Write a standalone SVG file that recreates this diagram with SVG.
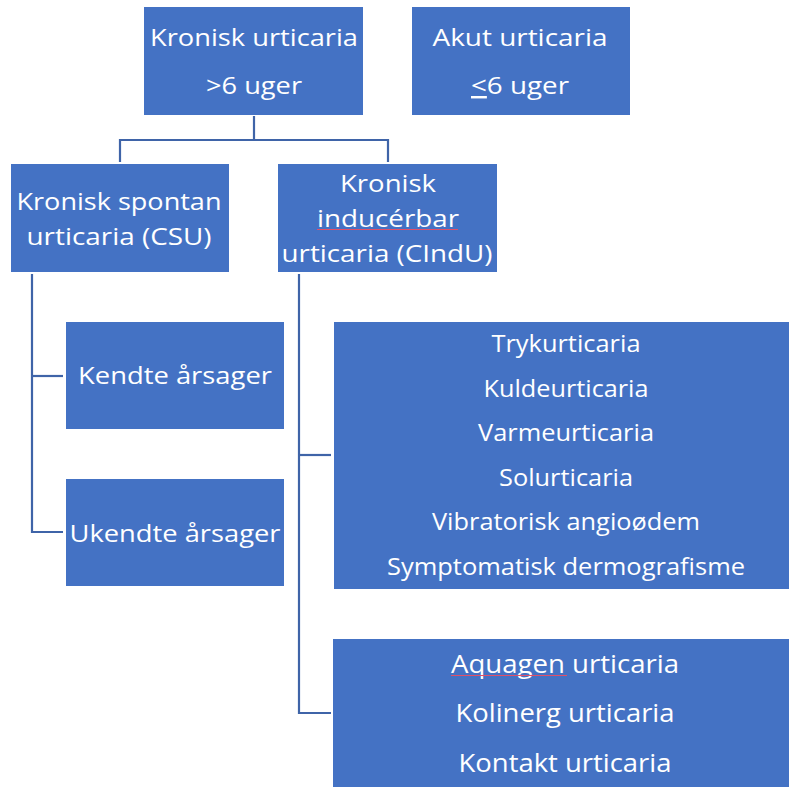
<svg xmlns="http://www.w3.org/2000/svg" width="789" height="787" viewBox="0 0 789 787">
<style>
.box{fill:#4472C4}
.t{font-family:"Open Sans","Noto Sans","Liberation Sans",sans-serif;font-size:24.5px;fill:#FFFFFF;text-anchor:middle;font-variant-ligatures:none}
.b{font-size:25.5px}
.c{fill:none;stroke:#3F64A8;stroke-width:2.2}
.sq{stroke:#E0506A;stroke-width:1.2}
</style>
<rect width="789" height="787" fill="#FFFFFF"/>
<g id="connectors">
<path class="c" d="M254 116 V140"/>
<path class="c" d="M120 162 V140 H388 V162"/>
<path class="c" d="M32 274 V532 H63"/>
<path class="c" d="M32 376 H63"/>
<path class="c" d="M299 274 V713 H331"/>
<path class="c" d="M299 455 H331"/>
</g>
<g id="kronisk">
<rect class="box" x="144" y="7" width="219" height="108"/>
<text class="t" x="254" y="46" textLength="208" lengthAdjust="spacingAndGlyphs">Kronisk urticaria</text>
<text class="t" x="254" y="94" textLength="96" lengthAdjust="spacingAndGlyphs">&gt;6 uger</text>
</g>
<g id="akut">
<rect class="box" x="412" y="7" width="218" height="108"/>
<text class="t" x="520" y="46" textLength="175" lengthAdjust="spacingAndGlyphs">Akut urticaria</text>
<text class="t" x="520" y="94" textLength="98" lengthAdjust="spacingAndGlyphs"><tspan text-decoration="underline">&lt;</tspan>6 uger</text>
</g>
<g id="csu">
<rect class="box" x="11" y="164" width="218" height="108"/>
<text class="t" x="119" y="210" textLength="205" lengthAdjust="spacingAndGlyphs">Kronisk spontan</text>
<text class="t" x="119" y="245" textLength="185" lengthAdjust="spacingAndGlyphs">urticaria (CSU)</text>
</g>
<g id="cindu">
<rect class="box" x="278" y="164" width="219" height="108"/>
<text class="t" x="388" y="192" textLength="96" lengthAdjust="spacingAndGlyphs">Kronisk</text>
<text class="t" x="388" y="227" textLength="142" lengthAdjust="spacingAndGlyphs">inducérbar</text>
<line class="sq" x1="317" y1="229.5" x2="458" y2="229.5"/>
<text class="t" x="387" y="262" textLength="211" lengthAdjust="spacingAndGlyphs">urticaria (CIndU)</text>
</g>
<g id="kendte">
<rect class="box" x="66" y="322" width="218" height="107"/>
<text class="t" x="175" y="384" textLength="194" lengthAdjust="spacingAndGlyphs">Kendte årsager</text>
</g>
<g id="ukendte">
<rect class="box" x="66" y="479" width="218" height="107"/>
<text class="t" x="175" y="542" textLength="211" lengthAdjust="spacingAndGlyphs">Ukendte årsager</text>
</g>
<g id="fysisk">
<rect class="box" x="334" y="322" width="455" height="267"/>
<text class="t" x="566" y="352" textLength="149" lengthAdjust="spacingAndGlyphs">Trykurticaria</text>
<text class="t" x="566" y="397" textLength="165" lengthAdjust="spacingAndGlyphs">Kuldeurticaria</text>
<text class="t" x="566" y="441" textLength="176" lengthAdjust="spacingAndGlyphs">Varmeurticaria</text>
<text class="t" x="566" y="486" textLength="134" lengthAdjust="spacingAndGlyphs">Solurticaria</text>
<text class="t" x="566" y="530" textLength="268" lengthAdjust="spacingAndGlyphs">Vibratorisk angioødem</text>
<text class="t" x="566" y="575" textLength="358" lengthAdjust="spacingAndGlyphs">Symptomatisk dermografisme</text>
</g>
<g id="andre">
<rect class="box" x="333" y="639" width="456" height="148"/>
<text class="t b" x="565" y="673" textLength="228" lengthAdjust="spacingAndGlyphs">Aquagen urticaria</text>
<line class="sq" x1="451" y1="675.5" x2="567" y2="675.5"/>
<text class="t b" x="565" y="722" textLength="219" lengthAdjust="spacingAndGlyphs">Kolinerg urticaria</text>
<text class="t b" x="565" y="772" textLength="213" lengthAdjust="spacingAndGlyphs">Kontakt urticaria</text>
</g>
</svg>
